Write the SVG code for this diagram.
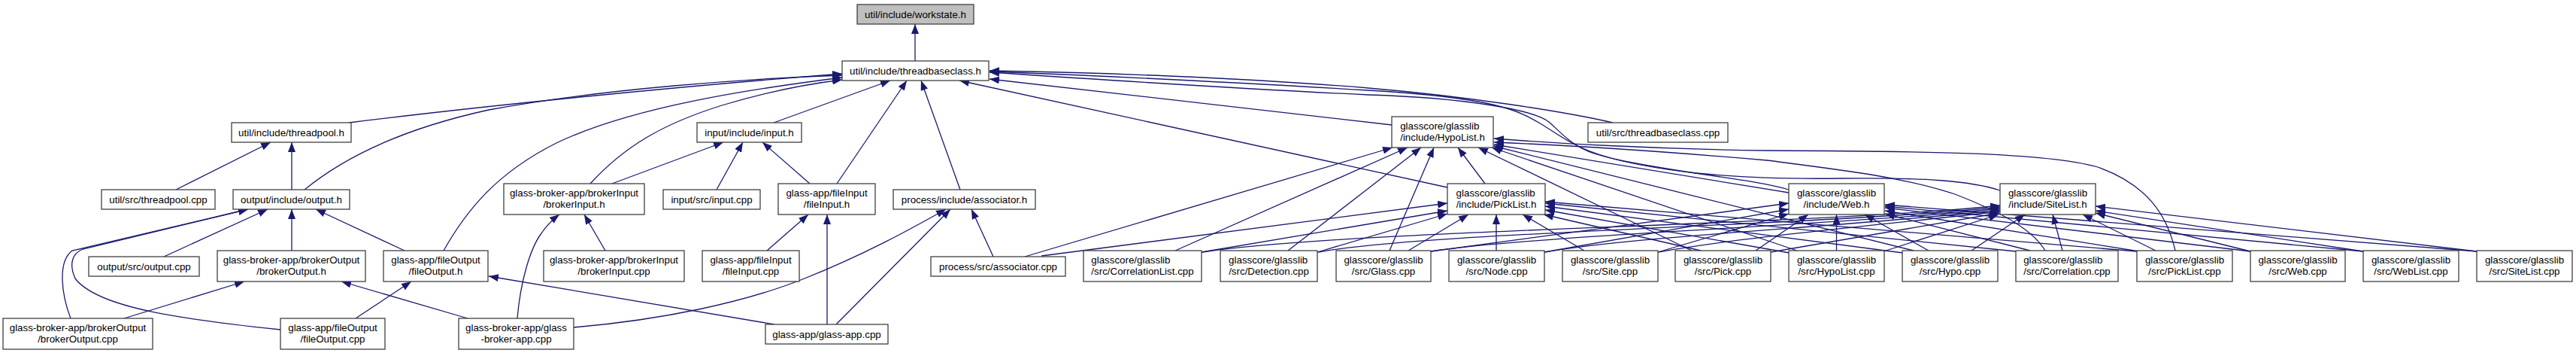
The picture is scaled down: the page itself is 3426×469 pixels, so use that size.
<svg xmlns="http://www.w3.org/2000/svg" width="3426" height="469" viewBox="0 0 3426 469">
<defs>
<style>
.n rect{fill:#fff;stroke:#404040;stroke-width:1.3}
.n text{font-family:"Liberation Sans",Arial,Helvetica,sans-serif;font-size:13.33px;fill:#000}
.m{text-anchor:middle}
.s{text-anchor:start}
.c path{fill:none;stroke:#191970;stroke-width:1.3;marker-end:url(#ah)}
</style>
<marker id="ah" viewBox="0 0 13 10" refX="13" refY="5" markerWidth="13" markerHeight="10" markerUnits="userSpaceOnUse" orient="auto"><path d="M0,0 L13,5 L0,10 z" fill="#191970"/></marker>
</defs>
<rect width="3426" height="469" fill="#fff"/>
<g id="connectors" class="c">
<path d="M1217,81 L1217,32"/>
<path d="M464,163 C650,140 900,115 1120,98"/>
<path d="M405,252 C460,207 540,170 650,146 C800,118 1000,104 1120,100"/>
<path d="M590,333 C620,280 660,230 740,190 C840,142 1000,118 1120,103"/>
<path d="M785,244 C830,195 880,165 960,140 C1020,122 1070,112 1120,106"/>
<path d="M1029,163 L1184,107"/>
<path d="M1113,244 L1206,107"/>
<path d="M1277,252 L1225,107"/>
<path d="M1851,166 L1316,105"/>
<path d="M1925,249 L1276,107"/>
<path d="M2145,163 C2080,148 1950,128 1820,117 C1650,103 1450,96 1316,94"/>
<path d="M2379,252 C2330,238 2250,232 2160,214 C2100,202 2075,180 2050,165 C2020,147 1990,130 1820,120 C1650,110 1450,100 1316,95"/>
<path d="M2660,253 C2620,240 2560,236 2450,237 C2300,239 2200,228 2120,204 C2090,194 2075,175 2060,162 C2040,146 1950,130 1820,126 C1650,118 1450,105 1316,96"/>
<path d="M234,252 L360,189"/>
<path d="M388,252 L388,189"/>
<path d="M218,341 L356,278"/>
<path d="M388,333 L388,278"/>
<path d="M538,333 L420,278"/>
<path d="M94,423 C82,392 76,348 96,333 L330,278"/>
<path d="M373,438 C250,425 130,410 100,370 C92,352 95,337 110,331 L330,278"/>
<path d="M165,423 L325,374"/>
<path d="M622,423 L454,374"/>
<path d="M473,423 L547,374"/>
<path d="M1030,431 L650,367"/>
<path d="M805,333 L777,285"/>
<path d="M688,423 C692,375 705,330 720,310 C728,298 736,291 744,285"/>
<path d="M814,244 L962,189"/>
<path d="M953,252 L988,189"/>
<path d="M1077,244 L1014,189"/>
<path d="M1020,333 L1075,285"/>
<path d="M1100,431 L1100,285"/>
<path d="M1321,341 L1292,278"/>
<path d="M763,435 C880,425 990,402 1070,370 C1150,338 1210,305 1258,278"/>
<path d="M1112,431 L1264,278"/>
<path d="M1363,341 L1852,196"/>
<path d="M1563,333 L1872,196"/>
<path d="M1713,333 L1890,196"/>
<path d="M1848,333 L1907,196"/>
<path d="M1975,244 L1939,196"/>
<path d="M2250,333 L1966,196"/>
<path d="M2390,333 L1984,196"/>
<path d="M2545,333 L1986,194"/>
<path d="M2379,256 L1987,192"/>
<path d="M2720,333 C2705,308 2670,285 2600,258 C2530,235 2450,226 2350,213 C2200,200 2060,192 1987,189"/>
<path d="M2893,333 C2882,285 2855,245 2790,222 C2720,202 2550,201 2350,200 C2200,198 2060,190 1987,184"/>
<path d="M1385,340 L1925,270"/>
<path d="M1598,335 L1925,280"/>
<path d="M1752,335 L1925,284"/>
<path d="M1873,333 L1953,285"/>
<path d="M1990,333 L1990,285"/>
<path d="M2107,333 L2025,285"/>
<path d="M2262,333 L2053,285"/>
<path d="M2380,336 L2055,279"/>
<path d="M2531,336 L2055,274"/>
<path d="M2681,334 L2055,270"/>
<path d="M2842,334 L2055,268"/>
<path d="M1903,334 L2379,270"/>
<path d="M2054,335 L2379,278"/>
<path d="M2205,335 L2379,284"/>
<path d="M2335,333 L2405,285"/>
<path d="M2442.5,333 L2442.5,285"/>
<path d="M2565,333 L2480,285"/>
<path d="M2700,333 L2507,284"/>
<path d="M2845,334 L2507,280"/>
<path d="M2993,334 L2507,276"/>
<path d="M3143,334 L2507,274"/>
<path d="M3294,334 L2507,272"/>
<path d="M1599,335 C1800,305 2400,300 2660,273"/>
<path d="M1753,335 C1900,308 2420,300 2660,275"/>
<path d="M1903,334 C2050,312 2440,300 2660,277"/>
<path d="M2054,335 C2180,313 2450,302 2660,279"/>
<path d="M2205,335 C2320,315 2470,302 2660,281"/>
<path d="M2355,335 L2659,283"/>
<path d="M2505,334 L2658,285"/>
<path d="M2622,333 L2693,285"/>
<path d="M2743,333 L2730,285"/>
<path d="M2867,333 L2770,285"/>
<path d="M2993,334 L2787,283"/>
<path d="M3143,334 L2787,280"/>
<path d="M3294,334 L2787,274"/>
</g>
<g id="workstate_h" class="n"><rect x="1140" y="6" width="155" height="26" style="fill:#bfbfbf"/><text class="m" x="1217.5" y="23.5">util/include/workstate.h</text></g>
<g id="threadbaseclass_h" class="n"><rect x="1120" y="81" width="195" height="26"/><text class="m" x="1217.5" y="98.5">util/include/threadbaseclass.h</text></g>
<g id="threadpool_h" class="n"><rect x="308" y="163" width="159" height="26"/><text class="m" x="387.5" y="180.5">util/include/threadpool.h</text></g>
<g id="input_h" class="n"><rect x="927" y="163" width="139" height="26"/><text class="m" x="996.5" y="180.5">input/include/input.h</text></g>
<g id="HypoList_h" class="n"><rect x="1851" y="155" width="135" height="41"/><text class="s" x="1862.2" y="171.5">glasscore/glasslib</text><text class="m" x="1918.5" y="186.5">/include/HypoList.h</text></g>
<g id="threadbaseclass_cpp" class="n"><rect x="2112" y="163" width="186" height="26"/><text class="m" x="2205" y="180.5">util/src/threadbaseclass.cpp</text></g>
<g id="threadpool_cpp" class="n"><rect x="135" y="252" width="151" height="26"/><text class="m" x="210.5" y="269.5">util/src/threadpool.cpp</text></g>
<g id="output_h" class="n"><rect x="310" y="252" width="155" height="26"/><text class="m" x="387.5" y="269.5">output/include/output.h</text></g>
<g id="brokerInput_h" class="n"><rect x="670" y="244" width="187" height="41"/><text class="m" x="763.5" y="260.5">glass-broker-app/brokerInput</text><text class="m" x="763.5" y="275.5">/brokerInput.h</text></g>
<g id="input_cpp" class="n"><rect x="882" y="252" width="129" height="26"/><text class="m" x="946.5" y="269.5">input/src/input.cpp</text></g>
<g id="fileInput_h" class="n"><rect x="1035" y="244" width="129" height="41"/><text class="m" x="1099.5" y="260.5">glass-app/fileInput</text><text class="m" x="1099.5" y="275.5">/fileInput.h</text></g>
<g id="associator_h" class="n"><rect x="1188" y="252" width="189" height="26"/><text class="m" x="1282.5" y="269.5">process/include/associator.h</text></g>
<g id="PickList_h" class="n"><rect x="1925" y="244" width="130" height="41"/><text class="s" x="1936.6" y="260.5">glasscore/glasslib</text><text class="m" x="1990" y="275.5">/include/PickList.h</text></g>
<g id="Web_h" class="n"><rect x="2379" y="244" width="127" height="41"/><text class="m" x="2442.5" y="260.5">glasscore/glasslib</text><text class="m" x="2442.5" y="275.5">/include/Web.h</text></g>
<g id="SiteList_h" class="n"><rect x="2660" y="244" width="127" height="41"/><text class="m" x="2723.5" y="260.5">glasscore/glasslib</text><text class="m" x="2723.5" y="275.5">/include/SiteList.h</text></g>
<g id="output_cpp" class="n"><rect x="118" y="341" width="147" height="26"/><text class="m" x="191.5" y="358.5">output/src/output.cpp</text></g>
<g id="brokerOutput_h" class="n"><rect x="289" y="333" width="197" height="41"/><text class="m" x="387.5" y="349.5">glass-broker-app/brokerOutput</text><text class="m" x="387.5" y="364.5">/brokerOutput.h</text></g>
<g id="fileOutput_h" class="n"><rect x="510" y="333" width="139" height="41"/><text class="m" x="579.5" y="349.5">glass-app/fileOutput</text><text class="m" x="579.5" y="364.5">/fileOutput.h</text></g>
<g id="brokerInput_cpp" class="n"><rect x="723" y="333" width="187" height="41"/><text class="m" x="816.5" y="349.5">glass-broker-app/brokerInput</text><text class="m" x="816.5" y="364.5">/brokerInput.cpp</text></g>
<g id="fileInput_cpp" class="n"><rect x="934" y="333" width="129" height="41"/><text class="m" x="998.5" y="349.5">glass-app/fileInput</text><text class="m" x="998.5" y="364.5">/fileInput.cpp</text></g>
<g id="associator_cpp" class="n"><rect x="1238" y="341" width="179" height="26"/><text class="m" x="1327.5" y="358.5">process/src/associator.cpp</text></g>
<g id="CorrelationList_cpp" class="n"><rect x="1441" y="333" width="157" height="41"/><text class="s" x="1451.3" y="349.5">glasscore/glasslib</text><text class="m" x="1519.5" y="364.5">/src/CorrelationList.cpp</text></g>
<g id="Detection_cpp" class="n"><rect x="1623" y="333" width="129" height="41"/><text class="s" x="1634.1" y="349.5">glasscore/glasslib</text><text class="m" x="1687.5" y="364.5">/src/Detection.cpp</text></g>
<g id="Glass_cpp" class="n"><rect x="1777" y="333" width="126" height="41"/><text class="m" x="1840" y="349.5">glasscore/glasslib</text><text class="m" x="1840" y="364.5">/src/Glass.cpp</text></g>
<g id="Node_cpp" class="n"><rect x="1927" y="333" width="127" height="41"/><text class="m" x="1990.5" y="349.5">glasscore/glasslib</text><text class="m" x="1990.5" y="364.5">/src/Node.cpp</text></g>
<g id="Site_cpp" class="n"><rect x="2078" y="333" width="127" height="41"/><text class="m" x="2141.5" y="349.5">glasscore/glasslib</text><text class="m" x="2141.5" y="364.5">/src/Site.cpp</text></g>
<g id="Pick_cpp" class="n"><rect x="2228" y="333" width="127" height="41"/><text class="m" x="2291.5" y="349.5">glasscore/glasslib</text><text class="m" x="2291.5" y="364.5">/src/Pick.cpp</text></g>
<g id="HypoList_cpp" class="n"><rect x="2379" y="333" width="127" height="41"/><text class="m" x="2442.5" y="349.5">glasscore/glasslib</text><text class="m" x="2442.5" y="364.5">/src/HypoList.cpp</text></g>
<g id="Hypo_cpp" class="n"><rect x="2530" y="333" width="127" height="41"/><text class="m" x="2593.5" y="349.5">glasscore/glasslib</text><text class="m" x="2593.5" y="364.5">/src/Hypo.cpp</text></g>
<g id="Correlation_cpp" class="n"><rect x="2681" y="333" width="136" height="41"/><text class="s" x="2691.2" y="349.5">glasscore/glasslib</text><text class="m" x="2749" y="364.5">/src/Correlation.cpp</text></g>
<g id="PickList_cpp" class="n"><rect x="2842" y="333" width="127" height="41"/><text class="m" x="2905.5" y="349.5">glasscore/glasslib</text><text class="m" x="2905.5" y="364.5">/src/PickList.cpp</text></g>
<g id="Web_cpp" class="n"><rect x="2993" y="333" width="126" height="41"/><text class="m" x="3056" y="349.5">glasscore/glasslib</text><text class="m" x="3056" y="364.5">/src/Web.cpp</text></g>
<g id="WebList_cpp" class="n"><rect x="3143" y="333" width="127" height="41"/><text class="m" x="3206.5" y="349.5">glasscore/glasslib</text><text class="m" x="3206.5" y="364.5">/src/WebList.cpp</text></g>
<g id="SiteList_cpp" class="n"><rect x="3294" y="333" width="127" height="41"/><text class="m" x="3357.5" y="349.5">glasscore/glasslib</text><text class="m" x="3357.5" y="364.5">/src/SiteList.cpp</text></g>
<g id="brokerOutput_cpp" class="n"><rect x="4" y="423" width="199" height="41"/><text class="m" x="103.5" y="439.5">glass-broker-app/brokerOutput</text><text class="m" x="103.5" y="454.5">/brokerOutput.cpp</text></g>
<g id="fileOutput_cpp" class="n"><rect x="373" y="423" width="139" height="41"/><text class="m" x="442.5" y="439.5">glass-app/fileOutput</text><text class="m" x="442.5" y="454.5">/fileOutput.cpp</text></g>
<g id="glass_broker_app_cpp" class="n"><rect x="610" y="423" width="153" height="41"/><text class="m" x="686.5" y="439.5">glass-broker-app/glass</text><text class="m" x="686.5" y="454.5">-broker-app.cpp</text></g>
<g id="glass_app_cpp" class="n"><rect x="1018" y="431" width="163" height="26"/><text class="m" x="1099.5" y="448.5">glass-app/glass-app.cpp</text></g>
</svg>
